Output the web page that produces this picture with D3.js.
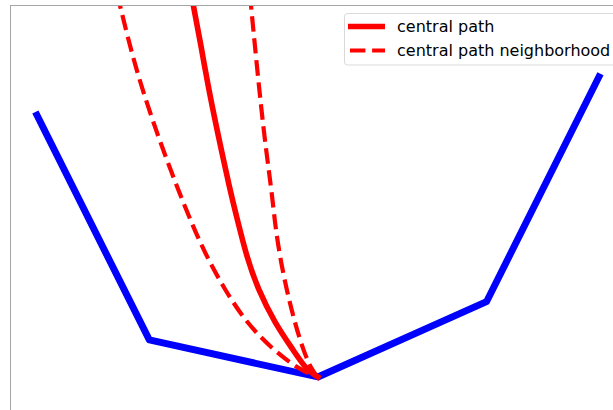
<!DOCTYPE html>
<html>
<head>
<meta charset="utf-8">
<script src="https://cdn.jsdelivr.net/npm/d3@7"></script>
<style>
  body { margin: 0; background: #fff; }
  svg { display: block; font-family: "DejaVu Sans", sans-serif; }
</style>
</head>
<body>
<div id="chart"></div>
<script>
// piecewise linear objective (blue)
const objX = [0, 1, 2.5, 4, 5];
const objY = [2.33, 0.33, 0, 0.67, 2.67];

// central path (solid red)
const centralX = [1.336, 1.391, 1.456, 1.524, 1.593, 1.717, 1.791, 1.866, 1.969, 2.117, 2.28, 2.399, 2.5];
const centralY = [3.6, 3.31, 2.969, 2.583, 2.242, 1.665, 1.37, 1.07, 0.774, 0.48, 0.24, 0.062, 0];

// neighborhood boundaries (dashed red)
const leftNbX = [0.667, 0.738, 0.872, 1.065, 1.257, 1.376, 1.51, 1.673, 1.866, 2.102, 2.34, 2.5];
const leftNbY = [3.6, 3.31, 2.761, 2.171, 1.664, 1.37, 1.07, 0.774, 0.48, 0.24, 0.062, 0];
const rightNbX = [1.876, 1.904, 2.011, 2.088, 2.117, 2.162, 2.222, 2.295, 2.369, 2.444, 2.5];
const rightNbY = [3.6, 3.31, 2.215, 1.664, 1.37, 1.07, 0.774, 0.48, 0.24, 0.062, 0];

const legendLabels = ["central path", "central path neighborhood"];

const width = 613, height = 410;
const box = { left: 10.5, top: 5.5, right: 625, bottom: 425 };

const svg = d3.select("#chart").append("svg")
    .attr("width", width)
    .attr("height", height);

const x = d3.scaleLinear()
    .domain([-0.235, 5.235])
    .range([box.left, box.left + 5.47 * 112.4]);
const y = d3.scaleLinear()
    .domain([0, 3.305])
    .range([377, 377 - 3.305 * 112.4]);

svg.append("defs").append("clipPath")
    .attr("id", "plot-clip")
    .append("rect")
    .attr("x", box.left).attr("y", box.top)
    .attr("width", box.right - box.left)
    .attr("height", box.bottom - box.top);

const plot = svg.append("g").attr("clip-path", "url(#plot-clip)");

const line = d3.line()
    .x(d => x(d[0]))
    .y(d => y(d[1]));
// basis smooths out the reading noise in the hand-picked points
const smooth = d3.line()
    .x(d => x(d[0]))
    .y(d => y(d[1]))
    .curve(d3.curveBasis);

plot.append("path")
    .datum(d3.zip(objX, objY))
    .attr("d", line)
    .attr("fill", "none")
    .attr("stroke", "#0000ff")
    .attr("stroke-width", 6.9)
    .attr("stroke-linejoin", "round")
    .attr("stroke-linecap", "square");

[[leftNbX, leftNbY], [rightNbX, rightNbY]].forEach(([xs, ys]) => {
    plot.append("path")
        .datum(d3.zip(xs, ys))
        .attr("d", smooth)
        .attr("fill", "none")
        .attr("stroke", "#ff0000")
        .attr("stroke-width", 4.2)
        .attr("stroke-dasharray", "15.4,6.7");
});

plot.append("path")
    .datum(d3.zip(centralX, centralY))
    .attr("d", smooth)
    .attr("fill", "none")
    .attr("stroke", "#ff0000")
    .attr("stroke-width", 5.6)
    .attr("stroke-linecap", "square");

// axes frame
svg.append("rect")
    .attr("x", box.left).attr("y", box.top)
    .attr("width", box.right - box.left)
    .attr("height", box.bottom - box.top)
    .attr("fill", "none")
    .attr("stroke", "#a6a6a6")
    .attr("stroke-width", 1);

// legend
const legend = svg.append("g");
legend.append("rect")
    .attr("x", 344.5).attr("y", 13.5)
    .attr("width", 290).attr("height", 51.5)
    .attr("rx", 3)
    .attr("fill", "#fff")
    .attr("fill-opacity", 0.8)
    .attr("stroke", "#d9d9d9");

legendLabels.forEach((label, i) => {
    const ly = 26.5 + i * 24;
    legend.append("line")
        .attr("x1", 348).attr("x2", 385)
        .attr("y1", ly).attr("y2", ly)
        .attr("stroke", "#ff0000")
        .attr("stroke-width", i === 0 ? 5.6 : 4.2)
        .attr("stroke-dasharray", i === 0 ? null : "15.4,6.7")
        .attr("stroke-dashoffset", i === 0 ? null : -2);
    legend.append("text")
        .attr("x", 397)
        .attr("y", ly)
        .attr("dy", "0.35em")
        .attr("font-size", "16px")
        .attr("fill", "#000")
        .text(label);
});
</script>
</body>
</html>
